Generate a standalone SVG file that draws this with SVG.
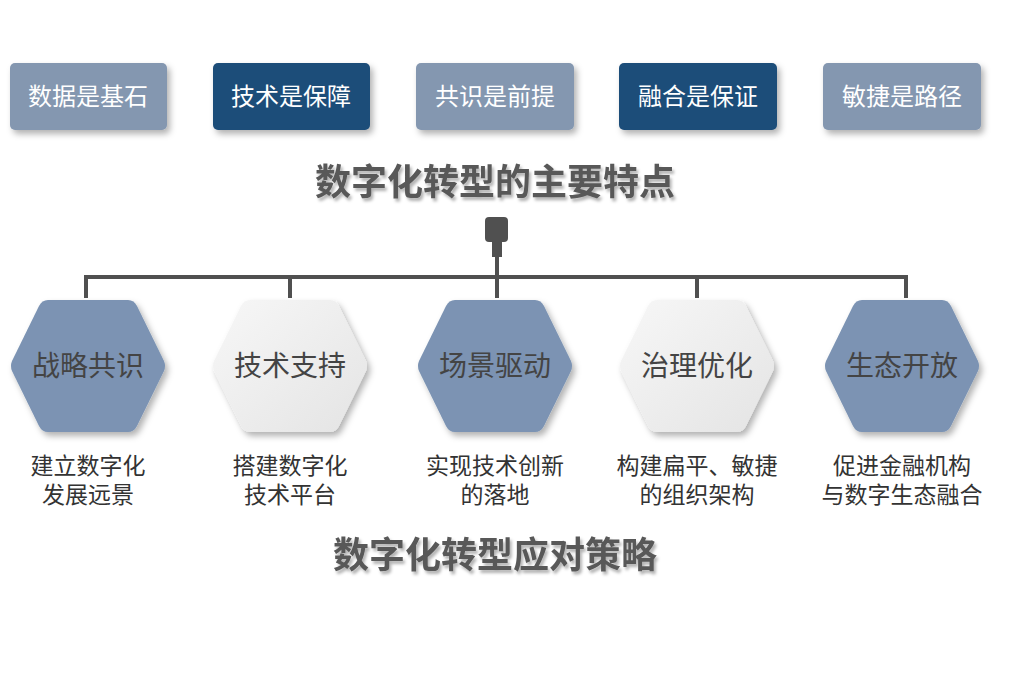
<svg xmlns="http://www.w3.org/2000/svg" width="1024" height="680" viewBox="0 0 1024 680">
<defs>
<filter id="sh" x="-20%" y="-20%" width="150%" height="150%"><feDropShadow dx="3" dy="4" stdDeviation="3" flood-color="#000" flood-opacity="0.3"/></filter>
<filter id="ts" x="-10%" y="-20%" width="120%" height="150%"><feDropShadow dx="2" dy="3" stdDeviation="1.5" flood-color="#000" flood-opacity="0.3"/></filter>
<linearGradient id="lg" x1="0" y1="0" x2="1" y2="1"><stop offset="0" stop-color="#f7f7f7"/><stop offset="1" stop-color="#e4e4e4"/></linearGradient>
<path id="hex" d="M-40,-66 L40,-66 Q46,-66 49,-60 L76,-5 Q78,0 76,5 L49,60 Q46,66 40,66 L-40,66 Q-46,66 -49,60 L-76,5 Q-78,0 -76,-5 L-49,-60 Q-46,-66 -40,-66 Z"/>
</defs>
<style>
text{font-family:"Liberation Sans","Noto Sans CJK SC",sans-serif;text-anchor:middle}
.bl{fill:#8497b0}.bd{fill:#1f4e79}
.bt{fill:#fff;font-size:24px}
.hb{fill:#7b93b3}.hl{fill:url(#lg)}
.ht{fill:#444;font-size:28px}
.d{fill:#333;font-size:23px}
.ti{fill:#595959;font-size:36px;font-weight:bold}
.ln{stroke:#505050;stroke-width:4;fill:none}
</style>
<rect width="1024" height="680" fill="#fff"/>
<g id="top1"><rect class="bl" x="10" y="63" width="157" height="67" rx="5" filter="url(#sh)"/><text class="bt" x="88" y="105">数据是基石</text></g>
<g id="top2"><rect class="bd" x="213" y="63" width="157" height="67" rx="5" filter="url(#sh)"/><text class="bt" x="291" y="105">技术是保障</text></g>
<g id="top3"><rect class="bl" x="416" y="63" width="158" height="67" rx="5" filter="url(#sh)"/><text class="bt" x="495" y="105">共识是前提</text></g>
<g id="top4"><rect class="bd" x="619" y="63" width="158" height="67" rx="5" filter="url(#sh)"/><text class="bt" x="698" y="105">融合是保证</text></g>
<g id="top5"><rect class="bl" x="823" y="63" width="158" height="67" rx="5" filter="url(#sh)"/><text class="bt" x="902" y="105">敏捷是路径</text></g>
<text class="ti" x="495" y="195" filter="url(#ts)">数字化转型的主要特点</text>
<g id="connectors">
<rect x="485" y="217" width="23" height="25" rx="4" fill="#505050"/>
<rect x="492" y="240" width="10" height="17" fill="#505050"/>
<path class="ln" d="M497,255 V298 M86,298 V277 H906 V298 M290,277 V298 M697,277 V298"/>
</g>
<g id="h1"><use href="#hex" class="hb" x="88" y="366" filter="url(#sh)"/><text class="ht" x="88" y="376">战略共识</text><text class="d" x="88" y="474">建立数字化</text><text class="d" x="88" y="503">发展远景</text></g>
<g id="h2"><use href="#hex" class="hl" x="290" y="366" filter="url(#sh)"/><text class="ht" x="290" y="376">技术支持</text><text class="d" x="290" y="474">搭建数字化</text><text class="d" x="290" y="503">技术平台</text></g>
<g id="h3"><use href="#hex" class="hb" x="495" y="366" filter="url(#sh)"/><text class="ht" x="495" y="376">场景驱动</text><text class="d" x="495" y="474">实现技术创新</text><text class="d" x="495" y="503">的落地</text></g>
<g id="h4"><use href="#hex" class="hl" x="697" y="366" filter="url(#sh)"/><text class="ht" x="697" y="376">治理优化</text><text class="d" x="697" y="474">构建扁平、敏捷</text><text class="d" x="697" y="503">的组织架构</text></g>
<g id="h5"><use href="#hex" class="hb" x="902" y="366" filter="url(#sh)"/><text class="ht" x="902" y="376">生态开放</text><text class="d" x="902" y="474">促进金融机构</text><text class="d" x="902" y="503">与数字生态融合</text></g>
<text class="ti" x="495" y="568" filter="url(#ts)">数字化转型应对策略</text>
</svg>
